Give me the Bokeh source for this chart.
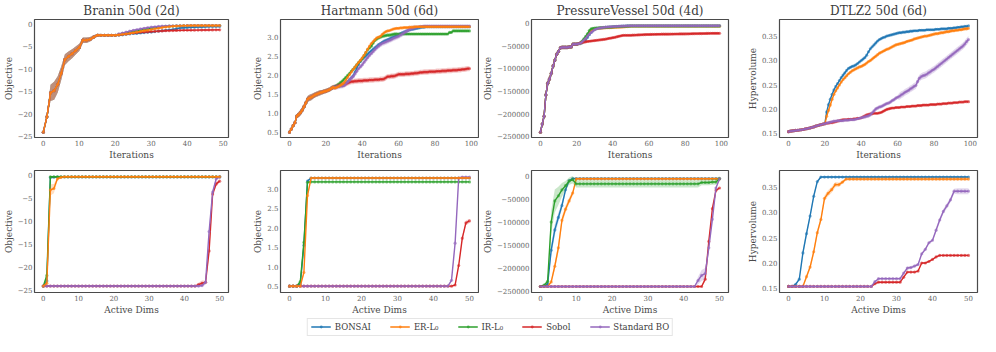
from bokeh.plotting import figure
from bokeh.layouts import column, row
from bokeh.models import Range1d, FixedTicker, Legend, LegendItem, ColumnDataSource
from bokeh.embed import file_html
from bokeh.resources import INLINE

FONT = "DejaVu Serif"
NAMES = ["BONSAI", "ER-L\u2080", "IR-L\u2080", "Sobol", "Standard BO"]
COLORS = ["#1f77b4", "#ff7f0e", "#2ca02c", "#d62728", "#9467bd"]

TITLES = ["Branin 50d (2d)", "Hartmann 50d (6d)", "PressureVessel 50d (4d)", "DTLZ2 50d (6d)"]
YLABELS = ["Objective", "Objective", "Objective", "Hypervolume"]

ITER50 = list(range(50))
ITER100 = list(range(100))
DIMS = list(range(51))

XTICKS_50 = [0, 10, 20, 30, 40, 50]
XTICKS_100 = [0, 20, 40, 60, 80, 100]
BRANIN_YTICKS = [-25, -20, -15, -10, -5, 0]
HART_YTICKS = [0.5, 1.0, 1.5, 2.0, 2.5, 3.0]
PV_YTICKS = [-250000, -200000, -150000, -100000, -50000, 0]
DT_YTICKS = [0.15, 0.20, 0.25, 0.30, 0.35]

# ---------------- Branin, iterations ----------------
BR_INIT = [-24.1, -20.7, -15.4, -14.9, -13.5, -11.0, -8.0, -7.3, -6.7, -6.0, -5.3, -3.7, -3.7, -3.5, -3.0,
           -2.6, -2.6, -2.6, -2.6, -2.6, -2.6]
BR_BLUE = BR_INIT + [-2.6, -2.5, -2.4, -2.3, -2.2, -2.2, -2.1, -2.0, -1.95, -1.9,
                     -1.8, -1.7, -1.6, -1.5, -1.4, -1.3, -1.15, -1.0, -0.95, -0.9,
                     -0.85, -0.82, -0.8, -0.77, -0.74, -0.7, -0.68, -0.66, -0.65]
BR_ORANGE = BR_INIT + [-2.5, -2.4, -2.3, -2.2, -2.05, -1.9, -1.75, -1.6, -1.5, -1.35,
                       -1.2, -1.05, -0.9, -0.8, -0.7, -0.62, -0.56, -0.52, -0.48, -0.46] + [-0.45] * 9
BR_GREEN = BR_INIT + [-2.4, -2.2, -2.05, -1.9, -1.75, -1.6, -1.45, -1.3, -1.15, -1.0,
                      -0.9, -0.8, -0.72, -0.65, -0.6, -0.56, -0.52, -0.5, -0.48, -0.47] + [-0.46] * 9
BR_RED = BR_INIT + [-2.5, -2.4, -2.3, -2.2, -2.1, -2.0, -1.95, -1.9, -1.85, -1.8,
                    -1.75, -1.7, -1.65, -1.6, -1.58, -1.56, -1.54, -1.52, -1.5, -1.5,
                    -1.48, -1.47, -1.46, -1.45, -1.44, -1.43, -1.42, -1.41, -1.4]
BR_PURPLE = BR_INIT + [-2.3, -2.1, -1.9, -1.7, -1.5, -1.35, -1.2, -1.05, -0.92, -0.8,
                       -0.72, -0.65, -0.6, -0.56, -0.53, -0.5, -0.48, -0.47, -0.46, -0.45] + [-0.45] * 9
BR_ERR = [0.0, 0.6, 1.8, 2.0, 1.8, 1.5, 1.2, 1.1, 1.0, 0.9, 0.8, 0.6, 0.6, 0.5, 0.4, 0.35,
          0.3, 0.3, 0.3, 0.3, 0.3] + [0.15] * 29

# ---------------- Hartmann, iterations ----------------
HT_INIT = [0.50, 0.58, 0.67, 0.75, 0.92, 0.96, 1.01, 1.08, 1.17, 1.27, 1.37, 1.40, 1.42, 1.45, 1.48,
           1.50, 1.52, 1.54, 1.55, 1.57, 1.58, 1.60, 1.62, 1.65, 1.68]
HT_BLUE = HT_INIT + [1.70, 1.70, 1.71, 1.72, 1.72, 1.74, 1.78, 1.83, 1.88, 1.93,
                     1.98, 2.08, 2.18, 2.28, 2.36, 2.42, 2.46, 2.50, 2.55, 2.60,
                     2.64, 2.68, 2.72, 2.76, 2.80, 2.83, 2.86, 2.89, 2.91, 2.93,
                     2.95, 2.98, 3.00, 3.02, 3.04, 3.06, 3.09, 3.11, 3.13, 3.15,
                     3.17, 3.19, 3.20, 3.21, 3.22, 3.23, 3.24, 3.25, 3.26, 3.26] + [3.27] * 25
HT_ORANGE = HT_INIT + [1.66, 1.68, 1.70, 1.73, 1.76, 1.80, 1.87, 1.94, 2.01, 2.08,
                       2.15, 2.21, 2.27, 2.33, 2.39, 2.45, 2.52, 2.60, 2.68, 2.76,
                       2.83, 2.88, 2.93, 2.98, 3.00, 3.02, 3.07, 3.11, 3.14, 3.16,
                       3.17, 3.19, 3.21, 3.22, 3.23, 3.23,
                       3.24, 3.24, 3.25, 3.25, 3.25, 3.26, 3.26, 3.26, 3.27] + [3.27] * 30
HT_GREEN = HT_INIT + [1.70, 1.73, 1.76, 1.80, 1.84, 1.89, 1.94, 1.99, 2.04, 2.10,
                      2.15, 2.21, 2.27, 2.33, 2.38, 2.43, 2.51, 2.59, 2.67, 2.72,
                      2.76, 2.84, 2.91, 2.95, 2.98, 3.00, 3.02, 3.03, 3.04, 3.05,
                      3.05, 3.06, 3.07, 3.08, 3.08] + [3.08] * 28 + [3.12, 3.12] + [3.16] * 10
HT_RED = HT_INIT + [1.68, 1.70, 1.72, 1.73, 1.74, 1.75, 1.77, 1.79, 1.81, 1.83,
                    1.83, 1.84, 1.84, 1.85, 1.85, 1.85, 1.86, 1.86, 1.86, 1.87,
                    1.87, 1.87, 1.88, 1.88, 1.88, 1.89, 1.89, 1.90, 1.93, 1.96,
                    1.96, 1.97, 1.97, 1.98, 2.00, 2.02,
                    2.02, 2.02, 2.02, 2.03, 2.03, 2.03, 2.04, 2.04, 2.05,
                    2.05, 2.06, 2.07, 2.07, 2.08, 2.08, 2.08, 2.09, 2.09, 2.09,
                    2.09, 2.10, 2.10, 2.10, 2.11, 2.11, 2.11, 2.12, 2.12, 2.12,
                    2.13, 2.13, 2.13, 2.14, 2.14, 2.15, 2.15, 2.16, 2.17, 2.17]
HT_PURPLE = HT_INIT + [1.68, 1.69, 1.70, 1.71, 1.72, 1.73, 1.77, 1.82, 1.87, 1.92,
                       1.96, 2.03, 2.10, 2.17, 2.22, 2.27, 2.34, 2.40, 2.46, 2.52,
                       2.57, 2.62, 2.67, 2.72, 2.76, 2.80, 2.83, 2.85, 2.87, 2.89,
                       2.91, 2.93, 2.96, 2.98, 3.00, 3.02, 3.05, 3.08, 3.11, 3.14,
                       3.17, 3.20, 3.22, 3.24, 3.25, 3.26, 3.27, 3.28, 3.28, 3.29] + [3.29] * 25
HT_ERR_INIT = [0.0, 0.02, 0.04, 0.05, 0.06, 0.07, 0.07, 0.08, 0.08, 0.08, 0.08, 0.08, 0.08, 0.07, 0.07,
               0.07, 0.07, 0.07, 0.06, 0.06, 0.06, 0.06, 0.06, 0.06, 0.06]
HT_ERR_BLUE = HT_ERR_INIT + [0.04] * 75
HT_ERR_ORANGE = HT_ERR_INIT + [0.03] * 75
HT_ERR_GREEN = HT_ERR_INIT + [0.05] * 35 + [0.03] * 40
HT_ERR_RED = HT_ERR_INIT + [0.07] * 75
HT_ERR_PURPLE = HT_ERR_INIT + [0.07] * 45 + [0.03] * 30

# ---------------- PressureVessel, iterations ----------------
PV_INIT = [-241000, -223000, -206000, -159000, -133000, -124000, -111000, -95000, -82000, -69000,
           -63000, -55000, -54000, -54000, -54000, -54000, -53000, -53000, -47000, -47000, -47000, -46000]
PV_BLUE = PV_INIT + [-46000, -44000, -41000, -37000, -32000, -26000, -21000, -17000, -14500, -13000,
                     -12000, -11500, -11000, -10500, -10000, -9700, -9400, -9100,
                     -8800, -8500, -8200, -7900, -7600, -7400, -7200, -7000, -6800, -6600] + [-6400] * 50
PV_ORANGE = PV_INIT + [-45000, -42000, -38000, -33000, -27000, -21000, -17000, -15000, -13500, -12500,
                       -12000, -11700, -11400, -11200, -11000, -10800, -10600, -10400,
                       -10200, -10000, -9800, -9600, -9400, -9200, -9000, -8600, -8200, -7800] + [-7200] * 50
PV_GREEN = PV_INIT + [-44000, -40000, -35000, -30000, -24000, -17000, -13000, -12000, -11500, -11000,
                      -10800, -10600, -10400, -10200, -10000, -9800, -9600, -9400,
                      -9000, -8800, -8600, -8400, -8200, -8000, -7800, -7600, -7400, -7200] + [-7000] * 50
PV_RED = PV_INIT + [-44000, -43500, -42500, -41700, -41000, -40500, -40000, -39500, -39000, -38500,
                    -38000, -37500, -37000, -36500, -36000, -35000, -34000, -33500,
                    -32700, -32000, -31000, -30000, -29000, -28000, -27500, -27500, -27500, -27500,
                    -27500, -27200, -27000, -26800, -26600, -26400, -26200, -26000, -25800, -25600,
                    -25600, -25500, -25400, -25300, -25200, -25100, -25100, -25000, -25000, -25000,
                    -25000, -24900, -24800, -24700, -24600, -24500, -24500, -24400, -24400, -24400,
                    -24300, -24200, -24100, -24000, -23900, -23800, -23700, -23700, -23600, -23600,
                    -23500, -23400, -23300, -23200, -23100, -23000, -23000, -23000, -23000, -23000]
PV_PURPLE = PV_INIT + [-45000, -42000, -38000, -34000, -29000, -25000, -21000, -18000, -15000, -13000,
                       -12000, -11000, -10500, -10000, -9500, -9000, -8700, -8400,
                       -8200, -8000, -7800, -7600, -7400, -7200, -7000, -6800, -6600, -6500] + [-6400] * 50
PV_ERR_INIT = [0, 3000, 5000, 8000, 9000, 9000, 8000, 7000, 6000, 5000, 5000, 4000, 4000, 4000, 4000,
               4000, 3000, 3000, 3000, 3000, 3000, 3000]
PV_ERR = PV_ERR_INIT + [2000] * 78
PV_ERR_RED = PV_ERR_INIT + [2500] * 78

# ---------------- DTLZ2, iterations ----------------
DT_INIT = [0.1536, 0.1545, 0.1550, 0.1555, 0.1560, 0.1565, 0.1570, 0.1575, 0.1580, 0.1590, 0.1596,
           0.1605, 0.1615, 0.1625, 0.1635, 0.1650, 0.1660, 0.1670, 0.1680, 0.1690, 0.1700]
DT_BLUE = DT_INIT + [0.194, 0.209, 0.220, 0.230, 0.239, 0.246, 0.252, 0.258, 0.264, 0.269,
                     0.274, 0.279, 0.283, 0.285, 0.287, 0.288, 0.290, 0.293, 0.296, 0.299,
                     0.302, 0.305, 0.310, 0.317, 0.323, 0.327, 0.331, 0.335, 0.339, 0.342,
                     0.344, 0.346, 0.347, 0.349, 0.350, 0.351, 0.352, 0.353, 0.354, 0.355,
                     0.356, 0.356, 0.357, 0.357, 0.358, 0.358, 0.359, 0.359, 0.360, 0.360,
                     0.360, 0.361, 0.361, 0.361, 0.361, 0.362, 0.362, 0.362, 0.362, 0.362,
                     0.363, 0.363, 0.363, 0.364, 0.364, 0.364, 0.364, 0.365, 0.365, 0.365,
                     0.366, 0.366, 0.367, 0.367, 0.368, 0.368, 0.369, 0.369, 0.370]
DT_ORANGE = DT_INIT + [0.185, 0.197, 0.208, 0.220, 0.230, 0.237, 0.243, 0.249, 0.255, 0.260,
                       0.264, 0.268, 0.272, 0.275, 0.278, 0.280, 0.282, 0.284, 0.286, 0.287,
                       0.289, 0.291, 0.294, 0.297, 0.299, 0.302, 0.305, 0.308, 0.311, 0.314,
                       0.316, 0.318, 0.320, 0.322, 0.323, 0.325, 0.327, 0.329, 0.331, 0.332,
                       0.333, 0.334, 0.335, 0.336, 0.338, 0.339, 0.340, 0.341, 0.343, 0.344,
                       0.345, 0.346, 0.347, 0.348, 0.349, 0.349, 0.350, 0.351, 0.352, 0.353,
                       0.354, 0.354, 0.355, 0.356, 0.356, 0.357, 0.358, 0.358, 0.359, 0.360,
                       0.360, 0.361, 0.361, 0.362, 0.362, 0.363, 0.364, 0.364, 0.365]
DT_RED = DT_INIT + [0.171, 0.171, 0.172, 0.172, 0.173, 0.174, 0.175, 0.176, 0.177, 0.178,
                    0.178, 0.178, 0.179, 0.179, 0.179, 0.180, 0.180, 0.181, 0.181, 0.182,
                    0.184, 0.186, 0.188, 0.189, 0.190, 0.190, 0.191, 0.191, 0.191, 0.192,
                    0.193, 0.195, 0.197, 0.199, 0.200, 0.201, 0.202, 0.202, 0.203, 0.203,
                    0.203, 0.204, 0.204, 0.204, 0.205, 0.205, 0.205, 0.206, 0.206, 0.206,
                    0.207, 0.207, 0.207, 0.208, 0.208, 0.208, 0.208, 0.209, 0.209, 0.209,
                    0.209, 0.210, 0.210, 0.210, 0.211, 0.211, 0.211, 0.212, 0.212, 0.212,
                    0.213, 0.213, 0.213, 0.214, 0.214, 0.214, 0.215, 0.215, 0.215]
DT_PURPLE = DT_INIT + [0.171, 0.172, 0.173, 0.174, 0.175, 0.175, 0.176, 0.176, 0.176, 0.176,
                       0.177, 0.177, 0.177, 0.178, 0.178, 0.178, 0.179, 0.180, 0.181, 0.182,
                       0.183, 0.184, 0.185, 0.186, 0.188, 0.192, 0.196, 0.200, 0.202, 0.204,
                       0.205, 0.207, 0.209, 0.211, 0.212, 0.214, 0.217, 0.219, 0.222, 0.224,
                       0.226, 0.229, 0.231, 0.234, 0.236, 0.238, 0.241, 0.243, 0.246, 0.248,
                       0.256, 0.263, 0.266, 0.268, 0.269, 0.271, 0.274, 0.276, 0.279, 0.281,
                       0.284, 0.287, 0.290, 0.293, 0.296, 0.299, 0.302, 0.305, 0.308, 0.311,
                       0.314, 0.317, 0.320, 0.323, 0.326, 0.329, 0.333, 0.338, 0.342]
DT_ERR_INIT = [0.001] * 21
DT_ERR_BLUE = DT_ERR_INIT + [0.002] * 79
DT_ERR_ORANGE = DT_ERR_INIT + [0.003] * 79
DT_ERR_RED = DT_ERR_INIT + [0.002] * 79
DT_ERR_PURPLE = DT_ERR_INIT + [0.002] * 20 + [0.004] * 20 + [0.007] * 39

# ---------------- Branin, active dims ----------------
BB_BLUE = [-24.1, -23.0, -0.6, -0.55] + [-0.5] * 47
BB_ORANGE = [-24.1, -23.5, -3.3, -3.0, -0.9, -0.6] + [-0.45] * 45
BB_GREEN = [-24.1, -21.8] + [-0.45] * 49
BB_RED = [-24.1] * 44 + [-23.8, -23.5, -23.3, -16.5, -4.2, -2.0, -1.4]
BB_PURPLE = [-24.1] * 45 + [-24.0, -23.3, -12.3, -3.8, -0.9, -0.5]
BB_ERR_BLUE = [0.0, 0.8, 0.3] + [0.1] * 48
BB_ERR_ORANGE = [0.0, 0.5, 1.2, 1.0, 0.4, 0.2] + [0.1] * 45
BB_ERR_GREEN = [0.0, 1.0] + [0.1] * 49
BB_ERR_RED = [0.1] * 44 + [0.4, 0.6, 0.4, 1.0, 0.8, 0.5, 0.3]
BB_ERR_PURPLE = [0.1] * 45 + [0.3, 0.5, 1.0, 0.6, 0.3, 0.2]

# ---------------- Hartmann, active dims ----------------
HB_BLUE = [0.5, 0.5, 0.5, 0.55, 1.55, 3.19] + [3.27] * 45
HB_ORANGE = [0.5, 0.5, 0.5, 0.5, 0.85, 2.82] + [3.27] * 45
HB_GREEN = [0.5, 0.5, 0.5, 0.62, 1.62, 3.16] + [3.17] * 45
HB_RED = [0.5] * 46 + [0.53, 1.03, 1.73, 2.12, 2.17]
HB_PURPLE = [0.5] * 45 + [0.65, 1.6, 3.27, 3.29, 3.29, 3.29]
HB_ERR_BLUE = [0.01] * 3 + [0.03, 0.1, 0.04] + [0.01] * 45
HB_ERR_ORANGE = [0.01] * 3 + [0.02, 0.06, 0.08] + [0.01] * 45
HB_ERR_GREEN = [0.01] * 3 + [0.04, 0.1, 0.03] + [0.01] * 45
HB_ERR_RED = [0.01] * 46 + [0.02, 0.04, 0.06, 0.06, 0.05]
HB_ERR_PURPLE = [0.01] * 45 + [0.04, 0.08, 0.03, 0.03, 0.03, 0.03]

# ---------------- PressureVessel, active dims ----------------
PB_BLUE = [-241000, -240000, -236000, -162000, -118000, -91000, -65000, -31000, -11000] + [-6400] * 42
PB_ORANGE = [-241000, -241000, -241000, -231000, -197000, -157000, -97000, -73000, -55000, -38000] + [-7000] * 41
PB_GREEN = [-241000, -238000, -230000, -101000, -55000, -44000, -31000, -22000, -12000, -9000] + \
           [-18000] * 35 + [-15000, -15000, -15000, -14000, -14000, -7000]
PB_RED = [-241000] * 46 + [-225000, -143000, -72000, -32000, -27000]
PB_PURPLE = [-241000] * 44 + [-228000, -217000, -213000, -157000, -95000, -27000, -7000]
PB_ERR_BLUE = [0, 1000, 3000, 12000, 12000, 10000, 8000, 5000, 2000] + [1000] * 42
PB_ERR_ORANGE = [0, 0, 0, 4000, 8000, 10000, 9000, 8000, 7000, 6000] + [1000] * 41
PB_ERR_GREEN = [0, 2000, 6000, 25000, 25000, 20000, 15000, 10000, 8000, 8000] + [8000] * 35 + [6000] * 6
PB_ERR_RED = [1000] * 46 + [5000, 5000, 4000, 3000, 2500]
PB_ERR_PURPLE = [1000] * 44 + [8000, 12000, 12000, 6000, 4000, 3000, 1000]

# ---------------- DTLZ2, active dims ----------------
DB_BLUE = [0.1536, 0.1536, 0.158, 0.168, 0.220, 0.258, 0.293, 0.332, 0.361] + [0.370] * 42
DB_ORANGE = [0.1536] * 5 + [0.173, 0.192, 0.222, 0.260, 0.286, 0.328, 0.338, 0.345, 0.355, 0.355, 0.360] + [0.366] * 35
DB_RED = [0.1536] * 24 + [0.159, 0.162, 0.162, 0.162, 0.162, 0.162, 0.162, 0.162, 0.172, 0.182, 0.182,
                          0.182, 0.184, 0.200, 0.200, 0.203, 0.207, 0.212] + [0.215] * 9
DB_PURPLE = [0.1536] * 24 + [0.163, 0.169, 0.169, 0.169, 0.169, 0.169, 0.169, 0.169, 0.180, 0.190, 0.191,
                             0.194, 0.197, 0.218, 0.227, 0.240, 0.245, 0.265, 0.285, 0.302, 0.313, 0.325,
                             0.342] + [0.342] * 4
DB_ERR_BLUE = [0.001] * 3 + [0.003, 0.006, 0.006, 0.005, 0.004, 0.003] + [0.002] * 42
DB_ERR_ORANGE = [0.001] * 5 + [0.004, 0.005, 0.006, 0.006, 0.006, 0.006, 0.006, 0.006, 0.005, 0.004, 0.003] + [0.003] * 35
DB_ERR_RED = [0.001] * 24 + [0.002] * 27
DB_ERR_PURPLE = [0.001] * 24 + [0.002] * 9 + [0.003] * 8 + [0.005] * 6 + [0.006] * 4


def tick_labels(ticks, decimals):
    return {t: ("{:." + str(decimals) + "f}").format(t).replace("-", "\u2212") for t in ticks}


def panel(title, xlabel, ylabel, xs, series, xticks, yticks, ydec, width, left, right, height, top, bottom):
    ally = []
    for _, ys, err in series:
        ally += [y - e for y, e in zip(ys, err)] + [y + e for y, e in zip(ys, err)]
    ylo, yhi = min(ally), max(ally)
    ypad = 0.05 * (yhi - ylo)
    xlo, xhi = min(xs), max(xs)
    xpad = 0.05 * (xhi - xlo)
    kw = {}
    if title:
        kw["title"] = title
    p = figure(width=width, height=height, output_backend="svg", toolbar_location=None,
               x_range=Range1d(xlo - xpad, xhi + xpad), y_range=Range1d(ylo - ypad, yhi + ypad),
               min_border_left=left, min_border_right=right, min_border_top=top,
               min_border_bottom=bottom, **kw)
    if title:
        p.title.text_font = FONT
        p.title.text_font_size = "12px"
        p.title.text_font_style = "normal"
        p.title.text_color = "#3c3c3c"
        p.title.align = "center"
        p.title.standoff = 3
        p.title.offset = 0
    p.grid.visible = False
    p.outline_line_color = "#4a4a4a"
    p.outline_line_width = 1.2
    p.background_fill_color = "white"
    for ax in (p.xaxis[0], p.yaxis[0]):
        ax.axis_line_color = None
        ax.major_tick_line_color = None
        ax.minor_tick_line_color = None
        ax.major_tick_out = 0
        ax.major_tick_in = 0
        ax.major_label_text_font = FONT
        ax.major_label_text_font_size = "7px"
        ax.major_label_text_color = "#666666"
        ax.major_label_standoff = 2
        ax.axis_label_text_font = FONT
        ax.axis_label_text_font_size = "9px"
        ax.axis_label_text_font_style = "normal"
        ax.axis_label_text_color = "#4a4a4a"
        ax.axis_label_standoff = 1
    p.xaxis.axis_label = xlabel
    p.yaxis.axis_label = ylabel
    p.xaxis.ticker = FixedTicker(ticks=xticks)
    p.yaxis.ticker = FixedTicker(ticks=yticks)
    p.yaxis.major_label_overrides = tick_labels(yticks, ydec)
    for idx, ys, err in series:
        c = COLORS[idx]
        src = ColumnDataSource(dict(x=xs, y=ys,
                                    lo=[y - e for y, e in zip(ys, err)],
                                    hi=[y + e for y, e in zip(ys, err)]))
        p.varea(x="x", y1="lo", y2="hi", source=src, fill_color=c, fill_alpha=0.25)
        p.line("x", "y", source=src, line_color=c, line_width=1.4)
        p.scatter("x", "y", source=src, size=3.2, fill_color=c, fill_alpha=0.6, line_color=None)
    return p


WIDTHS = [230, 249, 252, 249]
LEFTS = [30, 50, 51, 48]
RIGHTS = [2, 1, 3, 3]

# draw order per panel: (colour index, values, error)
top_series = [
    (ITER50, XTICKS_50, BRANIN_YTICKS, 0,
     [(0, BR_BLUE, BR_ERR), (2, BR_GREEN, BR_ERR), (3, BR_RED, BR_ERR), (4, BR_PURPLE, BR_ERR),
      (1, BR_ORANGE, BR_ERR)]),
    (ITER100, XTICKS_100, HART_YTICKS, 1,
     [(0, HT_BLUE, HT_ERR_BLUE), (2, HT_GREEN, HT_ERR_GREEN), (3, HT_RED, HT_ERR_RED),
      (4, HT_PURPLE, HT_ERR_PURPLE), (1, HT_ORANGE, HT_ERR_ORANGE)]),
    (ITER100, XTICKS_100, PV_YTICKS, 0,
     [(0, PV_BLUE, PV_ERR), (1, PV_ORANGE, PV_ERR), (2, PV_GREEN, PV_ERR),
      (3, PV_RED, PV_ERR_RED), (4, PV_PURPLE, PV_ERR)]),
    (ITER100, XTICKS_100, DT_YTICKS, 2,
     [(0, DT_BLUE, DT_ERR_BLUE), (1, DT_ORANGE, DT_ERR_ORANGE),
      (3, DT_RED, DT_ERR_RED), (4, DT_PURPLE, DT_ERR_PURPLE)]),
]
bottom_series = [
    (DIMS, XTICKS_50, BRANIN_YTICKS, 0,
     [(0, BB_BLUE, BB_ERR_BLUE), (2, BB_GREEN, BB_ERR_GREEN), (3, BB_RED, BB_ERR_RED),
      (4, BB_PURPLE, BB_ERR_PURPLE), (1, BB_ORANGE, BB_ERR_ORANGE)]),
    (DIMS, XTICKS_50, HART_YTICKS, 1,
     [(0, HB_BLUE, HB_ERR_BLUE), (2, HB_GREEN, HB_ERR_GREEN), (3, HB_RED, HB_ERR_RED),
      (4, HB_PURPLE, HB_ERR_PURPLE), (1, HB_ORANGE, HB_ERR_ORANGE)]),
    (DIMS, XTICKS_50, PV_YTICKS, 0,
     [(0, PB_BLUE, PB_ERR_BLUE), (1, PB_ORANGE, PB_ERR_ORANGE), (2, PB_GREEN, PB_ERR_GREEN),
      (3, PB_RED, PB_ERR_RED), (4, PB_PURPLE, PB_ERR_PURPLE)]),
    (DIMS, XTICKS_50, DT_YTICKS, 2,
     [(0, DB_BLUE, DB_ERR_BLUE), (1, DB_ORANGE, DB_ERR_ORANGE),
      (3, DB_RED, DB_ERR_RED), (4, DB_PURPLE, DB_ERR_PURPLE)]),
]

top_figs = []
for i, (xs, xt, yt, dec, ser) in enumerate(top_series):
    top_figs.append(panel(TITLES[i], "Iterations", YLABELS[i], xs, ser, xt, yt, dec,
                          WIDTHS[i], LEFTS[i], RIGHTS[i], 162, 0, 18))
bottom_figs = []
for i, (xs, xt, yt, dec, ser) in enumerate(bottom_series):
    bottom_figs.append(panel(None, "Active Dims", YLABELS[i], xs, ser, xt, yt, dec,
                             WIDTHS[i], LEFTS[i], RIGHTS[i], 155, 8, 17))

# legend strip (renderers carry no visible data; they only supply legend glyphs)
NAN = float("nan")
lg = figure(width=980, height=19, output_backend="svg", toolbar_location=None,
            x_range=Range1d(0, 1), y_range=Range1d(0, 1), min_border=0,
            x_axis_location=None, y_axis_location=None)
lg.outline_line_color = None
lg.grid.visible = False
items = []
for name, c in zip(NAMES, COLORS):
    lr = lg.line(x=[NAN], y=[NAN], line_color=c, line_width=1.4)
    sr = lg.scatter(x=[NAN], y=[NAN], size=3.2, fill_color=c, fill_alpha=0.7, line_color=None)
    items.append(LegendItem(label=name, renderers=[lr, sr]))
leg = Legend(items=items, orientation="horizontal", location="center")
leg.label_text_font = FONT
leg.label_text_font_size = "8.5px"
leg.label_text_color = "#3c3c3c"
leg.glyph_width = 20
leg.glyph_height = 7
leg.label_height = 10
leg.label_standoff = 4
leg.spacing = 19
leg.padding = 3
leg.margin = 0
leg.border_line_color = "#cccccc"
leg.border_line_width = 0.8
leg.background_fill_alpha = 1.0
lg.add_layout(leg)

layout = column(row(*top_figs), row(*bottom_figs), lg)
open("out.html", "w").write(file_html(layout, INLINE))
